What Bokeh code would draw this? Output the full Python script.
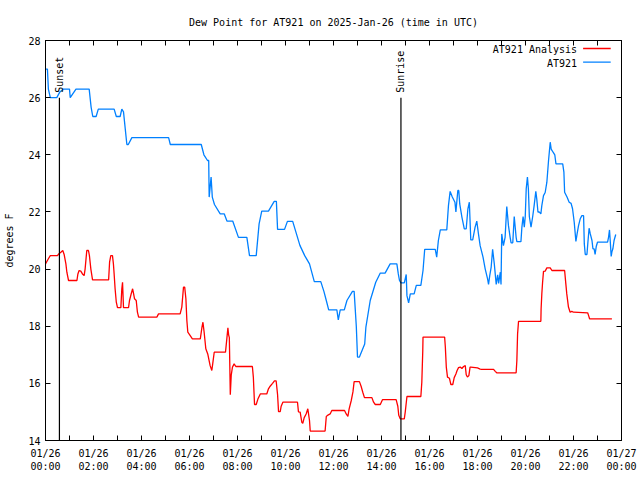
from math import pi
from bokeh.plotting import figure
from bokeh.models import (FixedTicker, LinearAxis, Label, ColumnDataSource)
from bokeh.core.properties import value
from bokeh.embed import file_html
from bokeh.resources import INLINE

# ---------------- data ----------------
title_text = "Dew Point for AT921 on 2025-Jan-26 (time in UTC)"
y_label = "degrees F"
series_names = ["AT921 Analysis", "AT921"]
series_colors = ["#ff0000", "#0080ff"]

# AT921 observations (hours UTC, dew point F)
obs_hours = [0.0, 0.08, 0.12, 0.2, 0.47, 0.6, 0.75, 1.0, 1.03, 1.27, 1.82, 1.9, 1.97, 2.11,
             2.2, 2.86, 2.95, 3.11, 3.18, 3.25, 3.39, 3.45, 3.6, 5.13, 5.2, 6.49, 6.6, 6.75,
             6.8, 6.82, 6.86, 6.9, 6.95, 7.04, 7.28, 7.45, 7.56, 7.8, 8.04, 8.39, 8.5, 8.78,
             8.9, 9.01, 9.29, 9.53, 9.62, 9.67, 9.96, 10.08, 10.3, 10.4, 10.6, 10.8, 11.0,
             11.2, 11.47, 11.6, 11.7, 11.8, 12.14, 12.2, 12.28, 12.45, 12.56, 12.79, 12.86,
             12.95, 13.0, 13.08, 13.3, 13.35, 13.53, 13.76, 13.95, 14.15, 14.36, 14.64, 14.7,
             14.75, 14.81, 14.95, 15.03, 15.06, 15.13, 15.2, 15.36, 15.45, 15.64, 15.73, 15.8,
             16.24, 16.3, 16.37, 16.45, 16.72, 16.79, 16.86, 16.95, 17.06, 17.1, 17.18, 17.22,
             17.26, 17.35, 17.45, 17.53, 17.6, 17.66, 17.72, 17.8, 17.9, 17.97, 18.04, 18.11,
             18.23, 18.32, 18.42, 18.46, 18.51, 18.57, 18.63, 18.7, 18.78, 18.84, 18.88, 18.95,
             18.98, 19.01, 19.08, 19.15, 19.22, 19.29, 19.36, 19.4, 19.47, 19.53, 19.61, 19.64,
             19.81, 19.85, 19.9, 19.95, 19.99, 20.03, 20.08, 20.12, 20.16, 20.23, 20.3, 20.36,
             20.43, 20.47, 20.52, 20.57, 20.64, 20.68, 20.75, 20.82, 20.89, 20.96, 21.03, 21.07,
             21.15, 21.22, 21.27, 21.55, 21.6, 21.63, 21.73, 21.82, 21.9, 21.96, 22.03, 22.1,
             22.15, 22.21, 22.28, 22.35, 22.42, 22.45, 22.49, 22.56, 22.6, 22.65, 22.7, 22.77,
             22.81, 22.86, 22.9, 22.95, 23.0, 23.42, 23.46, 23.5, 23.53, 23.57, 23.6, 23.64,
             23.69, 23.76]
obs_dewpt = [27.0, 27.0, 26.3, 26.0, 26.0, 26.2, 26.3, 26.3, 26.0, 26.3, 26.3, 25.67, 25.34, 25.34,
             25.6, 25.6, 25.34, 25.34, 25.6, 25.5, 24.36, 24.36, 24.6, 24.6, 24.36, 24.36, 24.0, 23.8,
             23.8, 22.52, 22.87, 23.22, 22.52, 22.26, 21.93, 21.93, 21.68, 21.68, 21.11, 21.11, 20.47, 20.47,
             21.58, 22.03, 22.03, 22.37, 22.37, 21.39, 21.39, 21.67, 21.67, 21.39, 20.83, 20.47, 20.18,
             19.56, 19.56, 19.22, 18.9, 18.57, 18.57, 18.22, 18.57, 18.57, 18.9, 19.22, 19.22,
             18.0, 16.92, 16.92, 17.38, 17.97, 18.9, 19.54, 19.86, 19.86, 20.18, 20.18, 19.83,
             19.6, 19.52, 19.52, 19.81, 19.07, 18.82, 19.13, 19.13, 19.43, 19.43, 19.95, 20.69,
             20.69, 20.42, 21.0, 21.37, 21.37, 22.22, 22.72, 22.52, 22.34, 22.0, 22.75, 22.75,
             22.28, 21.82, 21.41, 21.41, 22.11, 22.34, 21.02, 21.02, 21.47, 21.68, 21.23, 20.82,
             20.42, 20.01, 19.66, 19.46, 19.77, 20.07, 20.69, 20.18, 19.46, 19.8, 19.5, 19.89,
             19.46, 21.23, 20.82, 21.11, 22.19, 21.52, 21.11, 20.92, 20.92, 21.84, 21.11, 20.96,
             20.96, 21.47, 21.84, 21.47, 21.84, 22.81, 23.22, 22.81, 21.84, 21.47, 21.84, 22.22,
             22.72, 22.45, 21.99, 22.0, 21.93, 22.22, 22.57, 22.68, 23.04, 23.8, 24.44, 24.2,
             24.09, 24.0, 23.68, 23.68, 23.39, 22.69, 22.52, 22.34, 22.3, 22.11, 21.64, 20.97,
             21.23, 21.52, 21.76, 21.87, 21.87, 20.88, 20.51, 20.51, 20.94, 21.43, 21.23, 21.0,
             20.71, 20.71, 20.51, 20.8, 20.94, 20.94, 21.11, 21.37, 21.0, 20.44, 20.6, 20.71,
             21.0, 21.21]

# AT921 Analysis (hours UTC, dew point F)
ana_hours = [0.0, 0.12, 0.2, 0.5, 0.55, 0.64, 0.72, 0.78, 0.85, 0.89, 0.96, 1.31, 1.35, 1.4,
             1.47, 1.54, 1.61, 1.65, 1.72, 1.79, 1.83, 1.89, 1.96, 2.63, 2.67, 2.72, 2.79, 2.83,
             2.86, 2.9, 2.95, 3.0, 3.14, 3.18, 3.21, 3.25, 3.46, 3.5, 3.56, 3.63, 3.67, 3.71,
             3.78, 3.83, 3.88, 4.64, 4.71, 5.61, 5.68, 5.75, 5.8, 5.85, 5.89, 5.93, 6.03, 6.12,
             6.45, 6.52, 6.56, 6.61, 6.68, 6.76, 6.86, 6.93, 6.97, 7.03, 7.5, 7.56, 7.6, 7.63,
             7.66, 7.7, 7.74, 7.79, 7.86, 7.93, 8.62, 8.66, 8.71, 8.78, 8.85, 8.95, 9.22, 9.29,
             9.36, 9.46, 9.54, 9.61, 9.67, 9.71, 9.78, 9.82, 9.89, 10.5, 10.54, 10.61, 10.68,
             10.72, 10.78, 10.86, 10.93, 11.0, 11.03, 11.65, 11.7, 11.75, 11.86, 11.93, 12.46,
             12.53, 12.6, 12.65, 12.74, 12.81, 12.86, 13.08, 13.15, 13.22, 13.29, 13.6, 13.67,
             13.74, 13.95, 14.04, 14.61, 14.68, 14.72, 14.78, 14.95, 14.99, 15.06, 15.64, 15.68,
             15.72, 15.73, 16.63, 16.66, 16.7, 16.75, 16.83, 16.89, 16.97, 17.03, 17.1, 17.15,
             17.21, 17.28, 17.35, 17.42, 17.49, 17.53, 17.58, 17.64, 17.69, 17.72, 18.0, 18.11,
             18.18, 18.67, 18.74, 18.8, 19.61, 19.64, 19.67, 19.71, 20.64, 20.65, 20.68, 20.71,
             20.75, 20.82, 20.89, 21.03, 21.1, 21.63, 21.68, 21.72, 21.79, 21.86, 21.93, 22.0,
             22.59, 22.63, 22.67, 23.6]
ana_dewpt = [20.18, 20.36, 20.47, 20.47, 20.53, 20.59, 20.65, 20.5, 20.18, 19.89, 19.6, 19.6, 19.83, 19.95,
             19.93, 19.83, 19.77, 20.0, 20.65, 20.65, 20.47, 20.0, 19.62, 19.62, 20.24, 20.47, 20.47, 20.18,
             19.83, 19.31, 18.84, 18.65, 18.65, 19.31, 19.54, 18.65, 18.65, 18.9, 19.1, 19.31, 19.14, 18.96,
             18.9, 18.49, 18.32, 18.32, 18.43, 18.43, 18.67, 19.37, 19.37, 18.96, 18.2, 17.79, 17.67, 17.56,
             17.56, 17.97, 18.14, 17.79, 17.21, 17.03, 16.62, 16.45, 16.7, 17.09, 17.09, 17.6, 17.94, 17.7,
             17.6, 15.6, 16.3, 16.57, 16.68, 16.59, 16.59, 16.22, 15.26, 15.26, 15.45, 15.63, 15.63, 15.81,
             15.9, 16.0, 16.09, 16.09, 15.6, 15.01, 15.01, 15.2, 15.34, 15.34, 15.0, 14.99, 14.64,
             14.6, 14.8, 14.93, 15.11, 14.7, 14.33, 14.33, 14.84, 14.88, 14.93, 15.05, 15.05,
             14.93, 14.84, 15.1, 15.4, 15.7, 16.06, 16.06, 15.9, 15.69, 15.5, 15.5, 15.34,
             15.26, 15.26, 15.43, 15.43, 15.2, 14.88, 14.76, 14.76, 15.0, 15.54, 15.54, 16.04,
             17.15, 17.62, 17.62, 17.27, 16.57, 16.22, 16.18, 15.96, 15.96, 16.2, 16.33, 16.45,
             16.55, 16.57, 16.52, 16.59, 16.62, 16.3, 16.22, 16.27, 16.57, 16.57, 16.54, 16.5,
             16.49, 16.49, 16.42, 16.37, 16.37, 16.8, 17.73, 18.17, 18.17, 18.6, 19.13, 19.51,
             19.92, 19.93, 20.04, 20.04, 19.95, 19.95, 19.49, 19.13, 18.67, 18.49, 18.52, 18.49,
             18.47, 18.37, 18.26, 18.26]

event_names = ["Sunset", "Sunrise"]
event_hours = [0.58, 14.81]
event_line_top = 26.0

x_tick_hours = [0, 2, 4, 6, 8, 10, 12, 14, 16, 18, 20, 22, 24]
x_tick_labels = ["01/26\n00:00", "01/26\n02:00", "01/26\n04:00", "01/26\n06:00",
                 "01/26\n08:00", "01/26\n10:00", "01/26\n12:00", "01/26\n14:00",
                 "01/26\n16:00", "01/26\n18:00", "01/26\n20:00", "01/26\n22:00",
                 "01/27\n00:00"]
x_minor_hours = [1, 3, 5, 7, 9, 11, 13, 15, 17, 19, 21, 23]
y_ticks = [14, 16, 18, 20, 22, 24, 26, 28]

# ---------------- figure ----------------
FONT = "DejaVu Sans Mono"
FS = "10px"

p = figure(width=640, height=480, x_range=(0, 24), y_range=(14, 28),
           output_backend="svg", toolbar_location=None,
           min_border_left=45, min_border_right=19, min_border_top=40, min_border_bottom=40,
           x_axis_location=None, y_axis_location=None)
p.grid.visible = False
p.outline_line_color = "black"
p.outline_line_width = 1
p.background_fill_color = "white"
p.border_fill_color = "white"

p.title.text = title_text
p.title.align = "center"
p.title.text_font = FONT
p.title.text_font_size = FS
p.title.text_font_style = "normal"
p.title.text_color = "black"
p.title.offset = 0
p.title.standoff = 26

xt = FixedTicker(ticks=x_tick_hours, minor_ticks=x_minor_hours)
yt = FixedTicker(ticks=y_ticks, minor_ticks=[])


def style_axis(ax):
    ax.axis_line_color = "black"
    ax.major_tick_line_color = "black"
    ax.minor_tick_line_color = "black"
    ax.major_tick_in = 5
    ax.major_tick_out = 0
    ax.minor_tick_in = 5
    ax.minor_tick_out = 0
    ax.major_label_text_font = FONT
    ax.major_label_text_font_size = FS
    ax.major_label_text_color = "black"
    ax.axis_label_text_font = FONT
    ax.axis_label_text_font_size = FS
    ax.axis_label_text_font_style = "normal"
    ax.axis_label_text_color = "black"


xb = LinearAxis(ticker=xt)
style_axis(xb)
xb.major_label_overrides = {float(h): lab for h, lab in zip(x_tick_hours, x_tick_labels)}
xb.major_label_standoff = 7
p.add_layout(xb, "below")

# mirrored (unlabelled) tick axes on top and right, as gnuplot draws them
xa = LinearAxis(ticker=xt)
style_axis(xa)
xa.major_label_overrides = {float(h): "" for h in x_tick_hours}
xa.major_label_standoff = 0
p.add_layout(xa, "above")

yl = LinearAxis(ticker=yt, axis_label=y_label)
style_axis(yl)
yl.major_label_standoff = 5
yl.axis_label_standoff = 10
p.add_layout(yl, "left")

yr = LinearAxis(ticker=yt)
style_axis(yr)
yr.major_label_overrides = {float(t): "" for t in y_ticks}
yr.major_label_standoff = 0
p.add_layout(yr, "right")

# data lines
p.line(ana_hours, ana_dewpt, line_color=series_colors[0], line_width=1.3)
p.line(obs_hours, obs_dewpt, line_color=series_colors[1], line_width=1.3)

# sunset / sunrise markers
ev = ColumnDataSource(dict(x=event_hours, y0=[14] * len(event_hours),
                           y1=[event_line_top] * len(event_hours), name=event_names,
                           ty=[event_line_top + 0.17] * len(event_hours)))
p.segment(x0="x", y0="y0", x1="x", y1="y1", source=ev, line_color="black", line_width=1.2)
p.text(x="x", y="ty", text="name", source=ev, angle=pi / 2, text_align="left",
       text_baseline="middle", text_font=value(FONT), text_font_size=FS, text_color="black")

# legend (text right-aligned, sample line on the right, as in gnuplot)
leg_text_x = 22.15
leg_line_x0 = 22.4
leg_line_x1 = 23.55
leg_rows_y = [27.68, 27.2]
for name, color, yy in zip(series_names, series_colors, leg_rows_y):
    p.add_layout(Label(x=leg_text_x, y=yy, text=name, text_align="right",
                       text_baseline="middle", text_font=FONT, text_font_size=FS,
                       text_color="black"))
    p.line([leg_line_x0, leg_line_x1], [yy + 0.04, yy + 0.04], line_color=color, line_width=1.3)

open("out.html", "w").write(file_html(p, INLINE))
